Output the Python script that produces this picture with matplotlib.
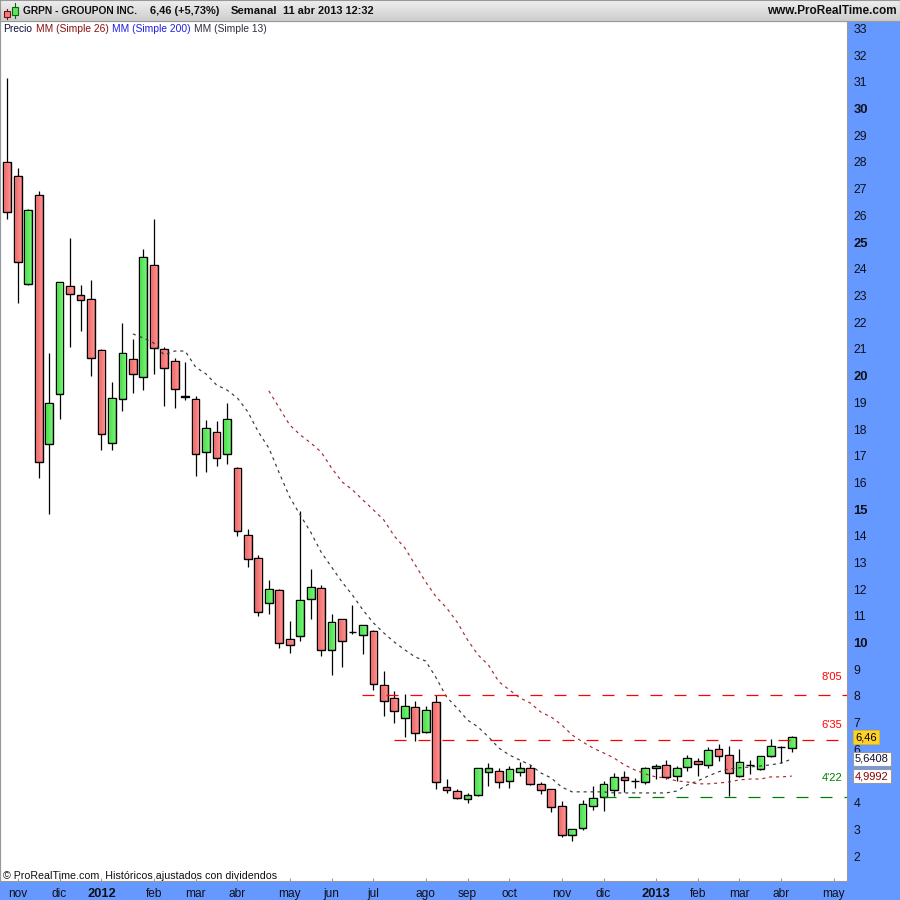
import numpy as np
import matplotlib
matplotlib.use("Agg")
import matplotlib.pyplot as plt
from matplotlib.colors import LinearSegmentedColormap
from matplotlib.patches import Rectangle

plt.rcParams['font.family'] = ['Liberation Sans', 'DejaVu Sans']
plt.rcParams['lines.scale_dashes'] = False

opens = [28.00,27.48,23.43,26.76,17.44,19.31,23.36,23.02,22.87,20.96,17.48,19.12,20.62,19.95,24.14,21.00,20.55,19.22,19.12,17.14,
         17.89,17.07,16.54,14.03,13.17,11.48,11.97,10.14,10.25,11.63,12.05,9.73,10.89,10.40,10.29,10.44,8.41,7.93,7.18,7.59,
         6.65,7.78,4.59,4.44,4.14,4.29,5.16,5.19,4.82,5.16,5.31,4.71,4.52,3.88,2.80,3.06,3.88,4.22,4.48,4.97,
         4.83,4.78,5.31,5.42,5.00,5.34,5.57,5.42,6.02,5.79,5.00,5.43,5.27,5.75,6.10,6.05]
closes = [26.13,24.26,26.20,16.77,18.98,23.51,23.06,22.83,20.66,17.81,19.16,20.85,20.06,24.44,21.03,20.29,19.50,19.18,17.07,18.04,
          16.92,18.37,14.18,13.13,11.15,12.01,9.99,9.91,11.60,12.08,9.73,10.77,10.06,10.40,10.66,8.45,7.81,7.44,7.63,6.62,
          7.48,4.78,4.48,4.18,4.29,5.31,5.31,4.78,5.27,5.31,4.71,4.48,3.84,2.80,3.02,3.96,4.18,4.71,4.97,4.86,
          4.81,5.31,5.38,4.97,5.31,5.68,5.46,5.98,5.75,5.12,5.53,5.41,5.75,6.13,6.08,6.46]
highs = [31.15,27.77,26.24,26.91,20.85,23.51,25.15,23.39,23.58,21.00,19.76,21.97,21.37,24.74,25.87,21.07,20.66,20.51,19.24,18.34,
         18.30,18.98,16.58,14.26,13.28,12.35,12.01,10.81,14.93,12.76,12.16,11.07,10.89,11.41,10.66,10.47,8.94,8.19,8.08,7.81,
         7.63,8.04,4.89,4.52,4.37,5.31,5.49,5.31,5.38,5.53,5.42,4.78,4.52,4.07,3.02,4.11,4.63,4.82,5.12,5.19,
         4.93,5.34,5.46,5.60,5.38,5.79,5.68,6.09,6.20,6.13,6.02,5.60,5.75,6.39,6.13,6.50]
lows = [25.87,22.72,23.39,16.17,14.82,18.37,21.07,21.67,19.99,17.21,17.21,18.67,19.35,19.46,20.06,18.86,18.79,19.09,16.24,16.39,
        16.62,16.69,13.99,12.83,11.00,11.07,9.80,9.61,10.06,10.89,9.50,8.79,9.09,10.32,9.57,8.23,7.25,6.99,6.47,6.32,
        6.62,4.52,4.37,4.14,3.99,4.26,4.63,4.56,4.56,5.00,4.67,4.33,3.66,2.72,2.57,2.98,3.73,3.70,4.26,4.41,
        4.56,4.71,4.89,4.89,4.82,5.19,5.00,5.31,5.57,4.26,4.97,5.08,5.23,5.72,5.49,5.90]

ma13_start = 12
ma13 = [21.56,21.41,21.22,20.77,20.92,20.92,20.32,20.06,19.65,19.46,19.16,18.64,17.89,17.29,16.35,15.45,14.78,14.14,13.39,12.83,
        12.27,11.78,11.22,10.74,10.36,10.02,9.73,9.46,9.31,8.68,7.96,7.55,7.10,6.84,6.47,6.05,5.79,5.60,5.42,5.12,
        4.93,4.59,4.41,4.41,4.41,4.41,4.37,4.37,4.37,4.37,4.37,4.37,4.44,4.67,4.82,5.00,5.16,5.27,5.31,5.34,
        5.38,5.42,5.49,5.64]
ma26_start = 25
ma26 = [19.43,18.79,18.15,17.78,17.48,17.14,16.54,16.02,15.72,15.34,14.97,14.59,13.99,13.55,12.91,12.27,11.71,11.30,10.77,10.10,
        9.54,9.16,8.53,8.23,7.93,7.74,7.40,7.21,6.92,6.54,6.28,6.05,5.87,5.68,5.42,5.23,5.08,4.97,4.93,4.82,
        4.78,4.71,4.71,4.74,4.78,4.86,4.89,4.89,4.97,4.97,5.00]

levels = [8.05, 6.35, 4.22]
level_starts = [33.9, 37.0, 57.0]
level_names = ["8'05", "6'35", "4'22"]
level_colors = ['#FF0000', '#FF0000', '#008000']

y_ticks = list(range(2, 34))
y_bold = [10, 15, 20, 25, 30]
x_tick_pos = [1, 5, 9, 14, 18, 22, 27, 31, 35, 40, 44, 48, 53, 57, 62, 66, 70, 74, 79]
x_tick_lab = ['nov', 'dic', '2012', 'feb', 'mar', 'abr', 'may', 'jun', 'jul', 'ago', 'sep', 'oct',
              'nov', 'dic', '2013', 'feb', 'mar', 'abr', 'may']
x_bold = ['2012', '2013']

BLUE = '#6699FF'
GREY = '#999999'
RED_CM = LinearSegmentedColormap.from_list('r', ['#E96C6C', '#FF8C8C'])
GRN_CM = LinearSegmentedColormap.from_list('g', ['#4FDC4F', '#72F272'])
GRAD = np.linspace(0, 1, 16).reshape(1, -1)

fig = plt.figure(figsize=(9, 9), dpi=100, facecolor=BLUE)
W, H = 900.0, 900.0
ax = fig.add_axes([0, 1 - 881 / H, 847 / W, 860 / H], facecolor='white')

x = np.arange(len(opens))
ax.vlines(x, lows, highs, color='black', lw=0.9, zorder=2)
bw = 0.74
for i, (o, c) in enumerate(zip(opens, closes)):
    t, b = max(o, c), min(o, c)
    doji = t - b < 0.05
    col = 'black' if doji else ('#5FE35F' if c > o else '#F47C7C')
    ax.bar(i, max(t - b, 0.01), bottom=b, width=bw, facecolor=col, edgecolor='black', lw=1.0, zorder=3)
    if t - b > 0.2:
        ax.imshow(GRAD, extent=[i - bw / 2 + 0.1, i + bw / 2 - 0.1, b + 0.045, t - 0.045], aspect='auto',
                  cmap=GRN_CM if c > o else RED_CM, zorder=3.5, interpolation='bilinear')

dots = (0, (2.2, 2.8))
ax.plot(np.arange(len(ma13)) + ma13_start, ma13, color='#383838', lw=0.85, ls=dots, zorder=4)
ax.plot(np.arange(len(ma26)) + ma26_start, ma26, color='#A82830', lw=0.85, ls=dots, zorder=4)

xmin, xmax = -0.70, 80.28
for lv, st, nm, col in zip(levels, level_starts, level_names, level_colors):
    ax.plot([st, xmax], [lv, lv], color=col, lw=0.9, ls=(0, (8.64, 8.64)), dash_capstyle='butt', zorder=4)
    off = {"8'05": 13.0, "6'35": 10.5, "4'22": 13.5}[nm]
    ax.annotate(nm, xy=(78.85, lv), xytext=(0, off), textcoords='offset points', color=col,
                fontsize=8, ha='center', va='center', zorder=5)

ax.set_xlim(xmin, xmax)
ax.set_ylim(33 - 852.5 / 26.7, 33 + 7.5 / 26.7)

ax.yaxis.tick_right()
ax.set_yticks(y_ticks)
ax.set_yticklabels([str(v) for v in y_ticks])
ax.set_xticks(x_tick_pos)
ax.set_xticklabels(x_tick_lab)
ax.tick_params(axis='y', length=2.2, width=0.8, color=GREY, pad=2.4, labelsize=8.8, labelcolor='#101018')
ax.tick_params(axis='x', length=2.2, width=0.8, color=GREY, direction='in', pad=4.9, labelsize=8.6, labelcolor='#101018')
for lb, v in zip(ax.get_yticklabels(), y_ticks):
    if v in y_bold:
        lb.set_fontweight('bold')
        lb.set_fontsize(9.4)
for lb in ax.get_xticklabels():
    if lb.get_text() in x_bold:
        lb.set_fontweight('bold')
        lb.set_fontsize(9.3)
for s in ax.spines.values():
    s.set_color(GREY)
    s.set_linewidth(0.8)
ax.spines['left'].set_linewidth(1.6)

# last-value boxes
tf = ax.get_yaxis_transform()
bx = 1 + 8.0 / 847
ax.text(bx, 6.46, '6,46', transform=tf, clip_on=False, fontsize=8.0, color='black', va='center', ha='left', zorder=10,
        bbox=dict(boxstyle='square,pad=0.2', fc='#FFD22A', ec='#E8B800', lw=0.5))
ax.text(bx, 5.6408, '5,6408', transform=tf, clip_on=False, fontsize=8.0, color='#101030', va='center', ha='left', zorder=10,
        bbox=dict(boxstyle='square,pad=0.2', fc='white', ec=GREY, lw=0.8))
ax.text(bx, 4.9992, '4,9992', transform=tf, clip_on=False, fontsize=8.0, color='#8B0000', va='center', ha='left', zorder=10,
        bbox=dict(boxstyle='square,pad=0.2', fc='white', ec=GREY, lw=0.8))

# header band
hd = fig.add_axes([0, 1 - 21 / H, 1, 21 / H])
hd.imshow(np.linspace(0, 1, 21).reshape(-1, 1), extent=[0, 900, 21, 0], aspect='auto',
          cmap=LinearSegmentedColormap.from_list('h', ['#EFEFEF', '#CDCDCD']))
hd.set_xlim(0, 900)
hd.set_ylim(21, 0)
hd.set_xticks([])
hd.set_yticks([])
for s in hd.spines.values():
    s.set_color(GREY)
    s.set_linewidth(0.8)
hd.plot([6.5, 6.5], [9, 19], color='#701010', lw=0.8)
hd.add_patch(Rectangle((3.5, 11), 6, 6, fc='#F47C7C', ec='#701010', lw=0.8, zorder=3))
hd.plot([14.5, 14.5], [3, 18], color='#106010', lw=0.8)
hd.add_patch(Rectangle((11.5, 7), 6, 8, fc='#5FE35F', ec='#106010', lw=0.8, zorder=3))
for px, tx, fs in [(23, 'GRPN - GROUPON INC.', 7.4), (150, '6,46 (+5,73%)', 7.9), (231, 'Semanal', 8.1), (283, '11 abr 2013 12:32', 7.9)]:
    hd.text(px, 11, tx, fontsize=fs, fontweight='bold', color='#101010', va='center', ha='left')
hd.text(897, 11, 'www.ProRealTime.com', fontsize=8.5, fontweight='bold', color='#101010', va='center', ha='right')

# legend + footer
for px, tx, col in [(3, 'Precio', '#101040'), (36, 'MM (Simple 26)', '#8B1010'),
                    (112, 'MM (Simple 200)', '#2020E0'), (194, 'MM (Simple 13)', '#303040')]:
    fig.text(px / W, 1 - 29 / H, tx, fontsize=7.4, color=col, va='center', ha='left')
fig.text(3 / W, 1 - 876 / H, '\u00a9 ProRealTime.com  Hist\u00f3ricos ajustados con dividendos', fontsize=7.7,
         color='#101010', va='center', ha='left')

fig.savefig('out.png', dpi=100, facecolor=BLUE)
